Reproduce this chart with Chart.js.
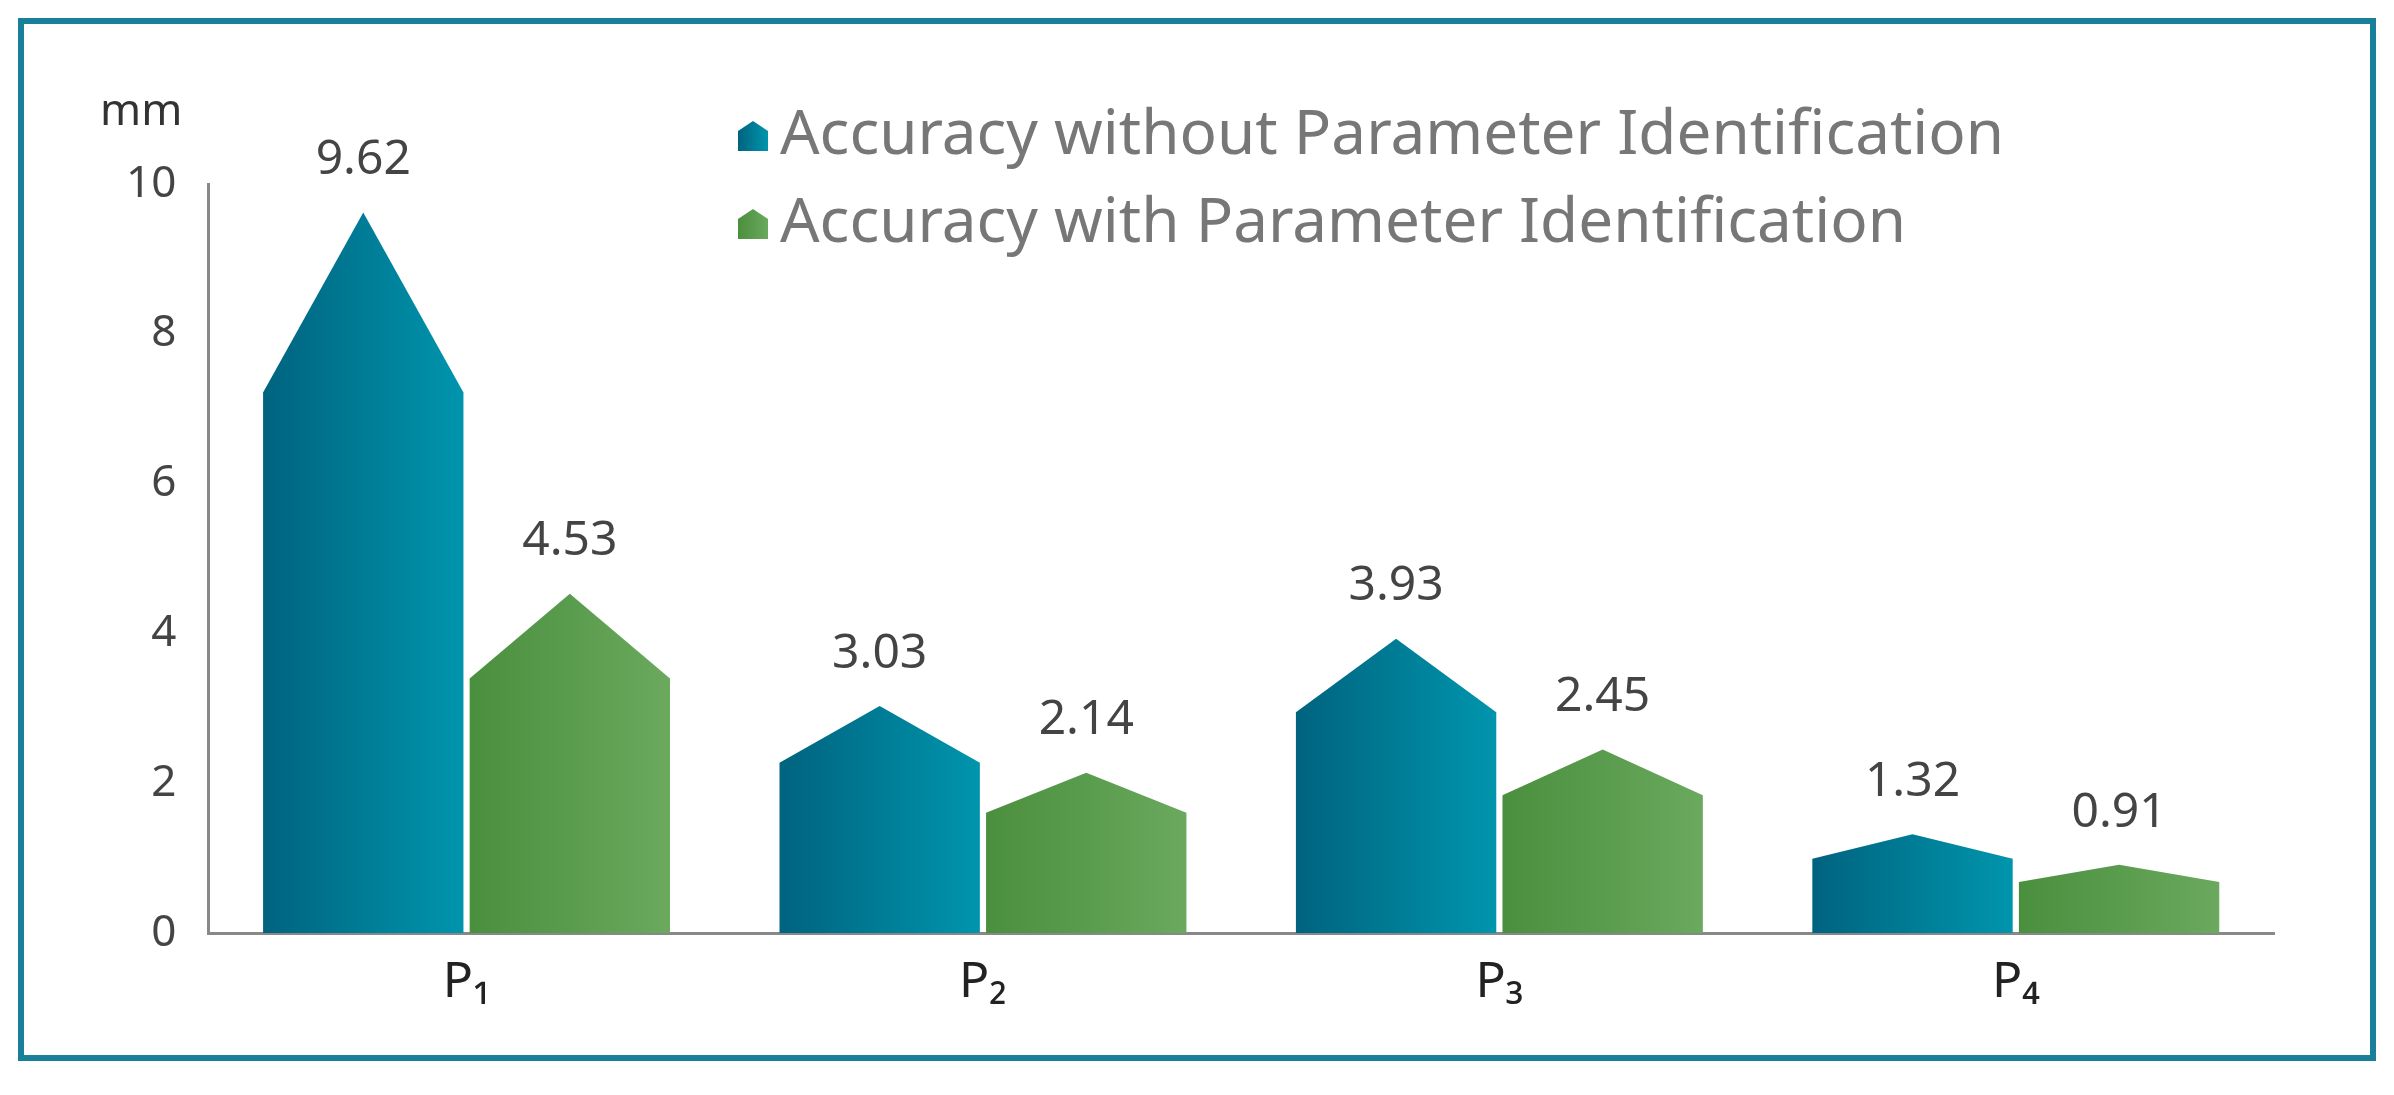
<!DOCTYPE html>
<html><head><meta charset="utf-8">
<script src="https://cdn.jsdelivr.net/npm/chart.js@4"></script>
<style>
html,body{margin:0;padding:0;background:#fff;}
#frame{position:absolute;left:18px;top:18px;width:2346px;height:1031px;border:6px solid #1a7f99;}
#c{display:block;}
</style></head>
<body>
<div id="frame"><canvas id="c" width="2346" height="1031"></canvas></div>
<script>
const categories = ['P\u2081', 'P\u2082', 'P\u2083', 'P\u2084'];
const withoutId = [9.62, 3.03, 3.93, 1.32];
const withId = [4.53, 2.14, 2.45, 0.91];
const seriesNames = ['Accuracy without Parameter Identification', 'Accuracy with Parameter Identification'];
const yTicks = [0, 2, 4, 6, 8, 10];

const colors = [['#00637f', '#0095ad'], ['#4a8f3e', '#6aa95e']];
const FONT = 'Microsoft YaHei, "Noto Sans", "Open Sans", sans-serif';

function house(ctx, x0, x1, top, shoulder, base) {
  ctx.beginPath();
  ctx.moveTo(x0, base);
  ctx.lineTo(x0, shoulder);
  ctx.lineTo((x0 + x1) / 2, top);
  ctx.lineTo(x1, shoulder);
  ctx.lineTo(x1, base);
  ctx.closePath();
}

const housePlugin = {
  id: 'house',
  afterDatasetsDraw(chart) {
    const ctx = chart.ctx;
    const yScale = chart.scales.y;
    chart.data.datasets.forEach((ds, di) => {
      chart.getDatasetMeta(di).data.forEach((bar, i) => {
        const v = ds.data[i];
        const x0 = bar.x - bar.width / 2, x1 = bar.x + bar.width / 2;
        const base = yScale.getPixelForValue(0);
        const shoulder = yScale.getPixelForValue(v * 0.75);
        const g = ctx.createLinearGradient(x0, 0, x1, 0);
        g.addColorStop(0, colors[di][0]);
        g.addColorStop(1, colors[di][1]);
        ctx.save();
        ctx.fillStyle = g;
        house(ctx, x0, x1, bar.y, shoulder, base);
        ctx.fill();
        ctx.fillStyle = '#444';
        ctx.font = '48px ' + FONT;
        ctx.textAlign = 'center';
        ctx.textBaseline = 'bottom';
        ctx.fillText(v.toFixed(2), bar.x, bar.y - 28);
        ctx.restore();
      });
    });
    // legend
    ctx.save();
    ctx.font = '62px ' + FONT;
    ctx.textBaseline = 'middle';
    seriesNames.forEach((name, k) => {
      const lx = 714, ly = 112 + k * 88;
      const g = ctx.createLinearGradient(lx, 0, lx + 30, 0);
      g.addColorStop(0, colors[k][0]);
      g.addColorStop(1, colors[k][1]);
      ctx.fillStyle = g;
      house(ctx, lx, lx + 30, ly - 15, ly - 5, ly + 15);
      ctx.fill();
      ctx.fillStyle = '#777';
      ctx.fillText(name, lx + 42, ly);
    });
    ctx.fillStyle = '#333';
    ctx.font = '44px ' + FONT;
    ctx.fillText('mm', 76, 88);
    ctx.restore();
  }
};

new Chart(document.getElementById('c'), {
  type: 'bar',
  data: {
    labels: categories,
    datasets: [
      { label: seriesNames[0], data: withoutId, backgroundColor: 'rgba(0,0,0,0)' },
      { label: seriesNames[1], data: withId, backgroundColor: 'rgba(0,0,0,0)' }
    ]
  },
  options: {
    responsive: false,
    animation: false,
    layout: { padding: { left: 70, right: 96, top: 160, bottom: 22 } },
    plugins: { legend: { display: false }, tooltip: { enabled: false } },
    datasets: { bar: { categoryPercentage: 0.8, barPercentage: 0.97 } },
    scales: {
      x: {
        grid: { display: false, drawTicks: false },
        border: { color: '#888', width: 3 },
        ticks: { color: '#222', font: { size: 50, family: FONT }, padding: 20 }
      },
      y: {
        min: 0, max: 10,
        afterBuildTicks: (axis) => { axis.ticks = yTicks.map((v) => ({ value: v })); },
        grid: { display: false, drawTicks: false },
        border: { color: '#888', width: 3 },
        ticks: { color: '#444', font: { size: 44, family: FONT }, padding: 32 }
      }
    }
  },
  plugins: [housePlugin]
});
</script>
</body></html>
